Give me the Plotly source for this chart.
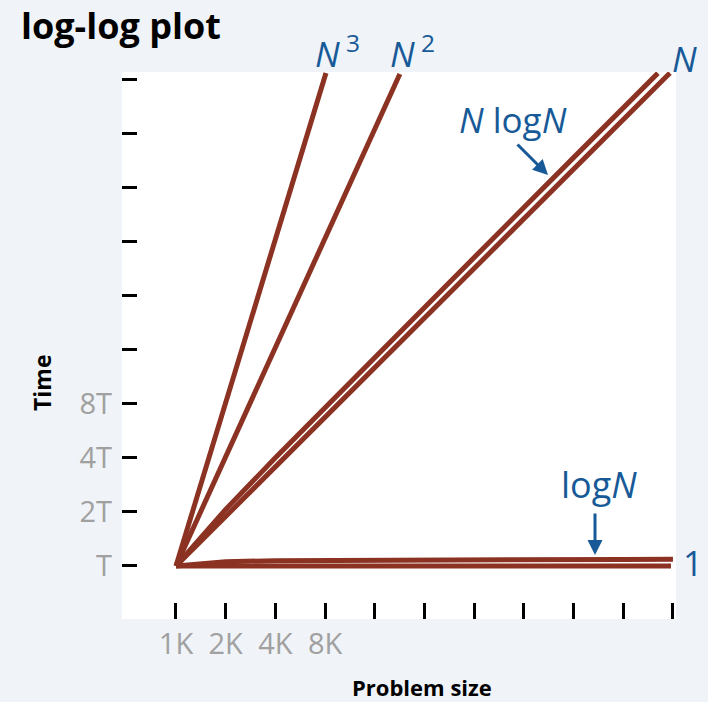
import plotly.graph_objects as go

# ---- data ----
x_tick_vals = [1, 2, 4, 8, 16, 32, 64, 128, 256, 512, 1024]          # problem size in K
x_tick_text = ["1K", "2K", "4K", "8K", "", "", "", "", "", "", ""]
y_tick_vals = [1, 2, 4, 8, 16, 32, 64, 128, 256, 512]                # time in T
y_tick_text = ["T", "2T", "4T", "8T", "", "", "", "", "", ""]

const_x = [1, 996]
const_y = [1.0, 1.0]
logN_x = [1, 2, 4, 8, 16, 32, 64, 128, 256, 512, 1024]
logN_y = [1.0, 1.057, 1.069, 1.074, 1.078, 1.081, 1.084, 1.085, 1.087, 1.088, 1.09]
N_x = [1, 982]
N_y = [1, 554]
NlogN_x = [1, 2, 4, 8, 16, 32, 64, 128, 256, 512, 830]
NlogN_y = [1, 2.065, 4.0, 7.63, 14.5, 27.5, 52.2, 98.9, 187.3, 354.3, 553]
N2_x = [1, 22.7]
N2_y = [1, 547]
N3_x = [1, 8.1]
N3_y = [1, 554]

# ---- styling ----
W, H = 708, 702
L, R, T, B = 122, 32, 72, 83
PW, PH = W - L - R, H - T - B
BG = "#f0f3f7"
LINE = "#8b3222"
BLUE = "#175a97"
GRAY = "#a0a0a0"
FONT = "Open Sans"


def px(x):
    return (x - L) / PW


def py(y):
    return (H - B - y) / PH


fig = go.Figure()
for xs, ys, name in [
    (const_x, const_y, "1"),
    (logN_x, logN_y, "log N"),
    (N_x, N_y, "N"),
    (NlogN_x, NlogN_y, "N log N"),
    (N2_x, N2_y, "N^2"),
    (N3_x, N3_y, "N^3"),
]:
    fig.add_trace(go.Scatter(x=xs, y=ys, mode="lines", name=name,
                             line=dict(color=LINE, width=5), hoverinfo="skip"))

fig.update_layout(
    width=W, height=H,
    margin=dict(l=L, r=R, t=T, b=B, pad=0),
    paper_bgcolor=BG, plot_bgcolor="white",
    showlegend=False,
    font=dict(family=FONT),
)
fig.update_xaxes(
    type="log", range=[-0.327, 3.0287],
    tickvals=x_tick_vals, ticktext=x_tick_text,
    ticks="inside", ticklen=16, tickwidth=3, tickcolor="black",
    tickfont=dict(size=29, color=GRAY, family=FONT),
    ticklabelstandoff=5,
    showgrid=False, zeroline=False, showline=False,
)
fig.update_yaxes(
    type="log", range=[-0.295, 2.749],
    tickvals=y_tick_vals, ticktext=y_tick_text,
    ticks="inside", ticklen=15, tickwidth=3, tickcolor="black",
    tickfont=dict(size=29, color=GRAY, family=FONT),
    ticklabelstandoff=9,
    showgrid=False, zeroline=False, showline=False,
)

ann = []


def text(t, x, y, size, color, xanchor="center", angle=0):
    ann.append(dict(text=t, x=px(x), y=py(y), xref="paper", yref="paper",
                    showarrow=False, xanchor=xanchor, yanchor="middle",
                    textangle=angle,
                    font=dict(size=size, color=color, family=FONT)))


text("<b>log-log plot</b>", 19, 26, 36, "black", xanchor="left")
text("<b>Time</b>", 42, 383, 23, "black", angle=-90)
text("<b>Problem size</b>", 422, 687, 22, "black")

text("<i>N</i><sup> 3</sup>", 337, 51, 35, BLUE)
text("<i>N</i><sup> 2</sup>", 412, 51, 35, BLUE)
text("<i>N</i>", 684, 58, 35, BLUE)
text("<i>N</i> log<i>N</i>", 513, 119, 35, BLUE)
text("log<i>N</i>", 599, 484, 36, BLUE)
text("1", 693, 562, 35, BLUE)

# arrows
ann.append(dict(text="", x=px(548), y=py(175), xref="paper", yref="paper",
                showarrow=True, ax=-32, ay=-32, arrowhead=2, arrowsize=1,
                arrowwidth=3, arrowcolor=BLUE))
ann.append(dict(text="", x=px(595), y=py(555), xref="paper", yref="paper",
                showarrow=True, ax=0, ay=-43, arrowhead=2, arrowsize=1,
                arrowwidth=3, arrowcolor=BLUE))

fig.update_layout(annotations=ann)
fig.write_html(
    "out.html",
    config={"displayModeBar": False},
    post_script="document.body.style.margin='0';"
                "document.body.style.background='" + BG + "';"
                "document.body.style.overflow='hidden';",
)
